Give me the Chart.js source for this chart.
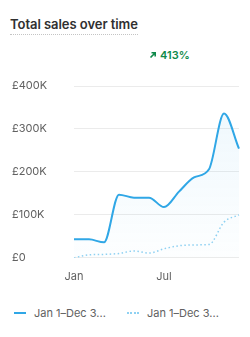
<!DOCTYPE html>
<html>
<head>
<meta charset="utf-8">
<script src="https://cdn.jsdelivr.net/npm/chart.js@4/dist/chart.umd.min.js"></script>
<style>
  body { margin: 0; width: 250px; height: 337px; background: #fff; font-family: Inter, "Noto Sans", sans-serif; overflow: hidden; position: relative; }
  .titulo { position: absolute; left: 10px; top: 16px; font-size: 13px; font-weight: 600; color: #303030; padding-bottom: 2px; border-bottom: 1.5px dotted #c4c4c4; letter-spacing: -0.05px; }
  .cambio { position: absolute; left: 149px; top: 48px; font-size: 11px; font-weight: 600; color: #0f8a4a; display: flex; align-items: center; gap: 3px; }
  .grafica { position: absolute; left: 12px; top: 76px; width: 231px; height: 211px; }
  .leyenda { position: absolute; top: 306px; left: 14px; font-size: 11px; color: #616161; display: flex; }
  .item { display: flex; align-items: center; width: 113px; }
  .muestra { width: 12px; height: 0; margin-right: 8px; }
</style>
</head>
<body>
<div class="titulo">Total sales over time</div>
<div class="cambio"><svg width="8" height="8" viewBox="0 0 8 8"><path d="M1.5 6.5 L6 2 M2.5 1.8 H6.2 V5.5" stroke="#0f8a4a" stroke-width="1.6" fill="none"/></svg>413%</div>
<div class="grafica"><canvas id="myChart" width="231" height="211"></canvas></div>
<div class="leyenda">
  <div class="item"><span class="muestra" style="border-top: 2px solid #30a7e6"></span>Jan 1–Dec 3...</div>
  <div class="item"><span class="muestra" style="border-top: 2px dotted #8fd1f2"></span>Jan 1–Dec 3...</div>
</div>
<script>
const etiquetas = ["Jan", "Feb", "Mar", "Apr", "May", "Jun", "Jul", "Aug", "Sep", "Oct", "Nov", "Dec"]
const ventasActual = [43000, 43000, 36000, 147000, 140000, 140000, 118000, 154000, 187000, 206000, 336000, 254000]
const ventasAnterior = [0, 7000, 8000, 10000, 16000, 11000, 21000, 28000, 30000, 31000, 83000, 100000]
const marcasY = [0, 100000, 200000, 300000, 400000]
const etiquetasVisibles = ["Jan", "Jul"]

const ctx = document.getElementById("myChart").getContext("2d")

const degradado = ctx.createLinearGradient(0, 0, 0, 180)
degradado.addColorStop(0, "rgba(48,167,230,0.09)")
degradado.addColorStop(1, "rgba(48,167,230,0.01)")

const myChart = new Chart(ctx, {
    type: "line",
    data: {
        labels: etiquetas,
        datasets: [
            {
                label: "Jan 1–Dec 31, 2024",
                data: ventasActual,
                borderColor: "#30a7e6",
                borderWidth: 2,
                fill: "origin",
                backgroundColor: degradado,
                cubicInterpolationMode: "monotone",
                pointRadius: 0
            },
            {
                label: "Jan 1–Dec 31, 2023",
                data: ventasAnterior,
                borderColor: "#8fd1f2",
                borderWidth: 1.5,
                borderDash: [1.5, 2.5],
                fill: false,
                cubicInterpolationMode: "monotone",
                pointRadius: 0
            }
        ]
    },
    options: {
        responsive: false,
        animation: false,
        layout: { padding: { top: 10, right: 0, left: 0, bottom: 0 } },
        plugins: {
            legend: { display: false },
            tooltip: { enabled: false }
        },
        scales: {
            x: {
                grid: { display: false },
                border: { display: false },
                ticks: {
                    color: "#616161",
                    font: { family: "Inter", size: 11 },
                    autoSkip: false,
                    maxRotation: 0,
                    padding: 4,
                    callback: function (valor, i) {
                        const e = etiquetas[i]
                        return etiquetasVisibles.includes(e) ? e : ""
                    }
                }
            },
            y: {
                min: 0,
                max: 400000,
                afterBuildTicks: function (eje) {
                    eje.ticks = marcasY.map(v => ({ value: v }))
                },
                afterFit: function (eje) {
                    eje.width = 62
                },
                grid: { color: "#ebebeb", drawTicks: false },
                border: { display: false },
                ticks: {
                    color: "#616161",
                    font: { family: "Inter", size: 11 },
                    crossAlign: "far",
                    callback: v => v === 0 ? "£0" : "£" + (v / 1000) + "K"
                }
            }
        }
    }
})
</script>
</body>
</html>
